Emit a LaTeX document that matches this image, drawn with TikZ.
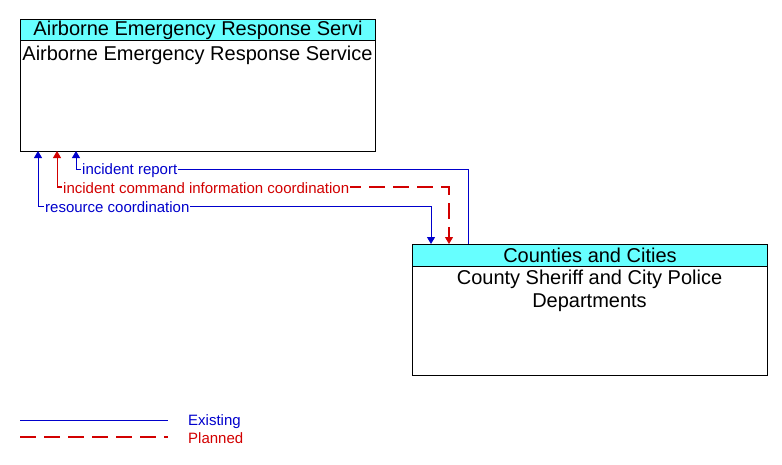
\documentclass[tikz,border=0pt]{standalone}
\usepackage{fontspec}
\setmainfont{Liberation Sans}
\usetikzlibrary{arrows.meta,calc}
\definecolor{eblue}{RGB}{0,0,204}
\definecolor{pred}{RGB}{210,0,0}
\definecolor{hdrcyan}{RGB}{102,255,255}
\tikzset{
  box/.style={draw=black,line width=1pt,fill=white,minimum width=355pt,minimum height=132pt,anchor=north west,inner sep=0pt},
  hdr/.style={draw=black,line width=1pt,fill=hdrcyan,minimum width=355pt,minimum height=21pt,anchor=north west,inner sep=0pt,font=\fontsize{20}{23}\selectfont},
  body/.style={anchor=center,align=center,inner sep=0pt,font=\fontsize{20}{23}\selectfont},
  flowlbl/.style={fill=white,inner sep=1pt,anchor=west,font=\fontsize{15}{17}\selectfont},
  existing/.style={draw=eblue,line width=1pt},
  plannedsolid/.style={draw=pred,line width=1pt},
  planned/.style={draw=pred,line width=1.2pt,dash pattern=on 16pt off 8pt},
  tip/.style={-{Triangle[width=8pt,length=7pt]}},
  bothtip/.style={{Triangle[width=8pt,length=7pt]}-{Triangle[width=8pt,length=7pt]}},
}
\begin{document}
\begin{tikzpicture}[x=1pt,y=-1pt]
\useasboundingbox (0,0) rectangle (782,464);
% boxes
\node[box] (b1) at (20,19) {};
\node[hdr] (h1) at (20,19) {Airborne Emergency Response Servi};
\node[body] (t1) at (197.5,55.5) {Airborne Emergency Response Service};
\node[box,minimum height=131pt] (b2) at (412,244) {};
\node[hdr,minimum height=22pt] (h2) at (412,244) {Counties and Cities};
\node[body] (t2) at (589.5,291) {County Sheriff and City Police\\Departments};
% anchor coordinates
\coordinate (b1a) at (38,151);
\coordinate (b1b) at (57,151);
\coordinate (b1c) at (76,151);
\coordinate (b2a) at (431,244);
\coordinate (b2b) at (449,244);
\coordinate (b2c) at (468,244);
% incident report
\draw[existing,tip] (b2c) |- (76,169) -- (b1c);
\node[flowlbl,text=eblue] (l1) at (81,170.5) {incident report};
% incident command information coordination
\coordinate (r1) at (57,187);
\coordinate (r2) at (449,187);
\draw[plannedsolid,tip] (r1) -- (b1b);
\draw[planned] (r1) -- (r2) -- (449,237);
\draw[plannedsolid,tip] (449,236) -- (b2b);
\node[flowlbl,text=pred] (l2) at (62,188.5) {incident command information coordination};
% resource coordination
\draw[existing,bothtip] (b1a) |- (431,206) -- (b2a);
\node[flowlbl,text=eblue] (l3) at (44,207.5) {resource coordination};
% legend
\coordinate (lg1a) at (20,420);
\coordinate (lg1b) at (168,420);
\coordinate (lg2a) at (20,437);
\coordinate (lg2b) at (168,437);
\draw[existing] (lg1a) -- (lg1b);
\draw[planned] (lg2a) -- (lg2b);
\node[anchor=west,inner sep=0pt,text=eblue,font=\fontsize{15}{17}\selectfont] (le) at (188,421.5) {Existing};
\node[anchor=west,inner sep=0pt,text=pred,font=\fontsize{15}{17}\selectfont] (lp) at (188,438.5) {Planned};
\end{tikzpicture}
\end{document}
